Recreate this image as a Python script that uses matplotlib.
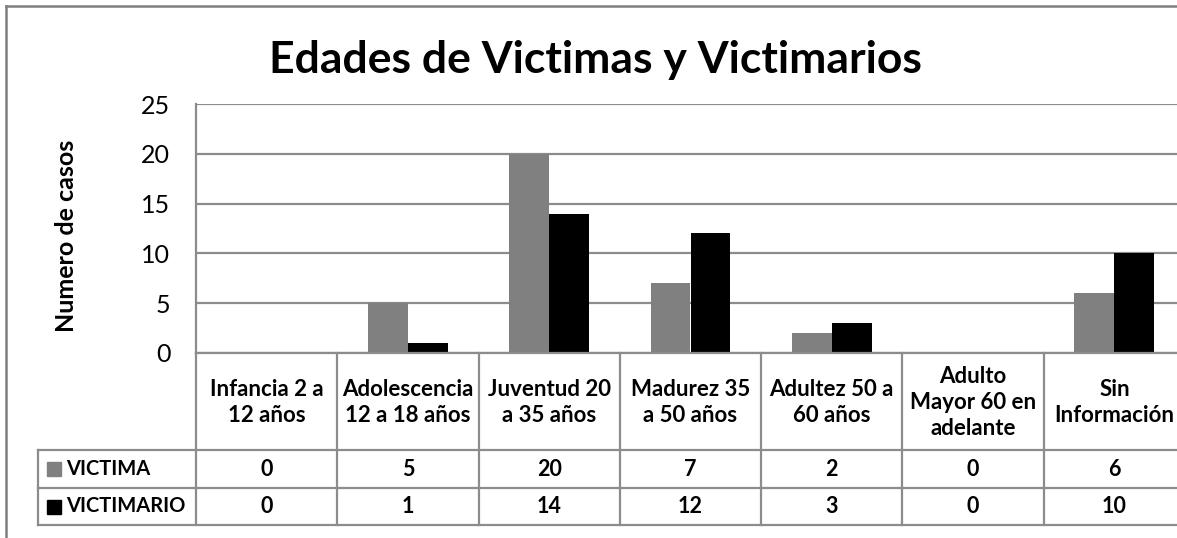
import matplotlib
matplotlib.use("Agg")
import matplotlib.pyplot as plt
from matplotlib.transforms import blended_transform_factory
from matplotlib.lines import Line2D
from matplotlib.patches import Rectangle
import numpy as np

categories = ["Infancia 2 a\n12 años", "Adolescencia\n12 a 18 años", "Juventud 20\na 35 años",
              "Madurez 35\na 50 años", "Adultez 50 a\n60 años", "Adulto\nMayor 60 en\nadelante",
              "Sin\nInformación"]
series_names = ["VICTIMA", "VICTIMARIO"]
victima = [0, 5, 20, 7, 2, 0, 6]
victimario = [0, 1, 14, 12, 3, 0, 10]
yticks = [0, 5, 10, 15, 20, 25]
title = "Edades de Victimas y Victimarios"
ylabel = "Numero de casos"

FONT = "Lato"
W, H = 1177, 538
GRID = "#8c8c8c"
C_V = "#808080"
C_M = "#000000"

fig = plt.figure(figsize=(W / 100, H / 100), dpi=100)

def fx(px):
    return px / W

def fy(py):
    return 1 - py / H

ax_left, ax_right, ax_top, ax_bot = 196, 1185, 104, 353
ax = fig.add_axes([fx(ax_left), fy(ax_bot), fx(ax_right - ax_left), (ax_bot - ax_top) / H])

x = np.arange(len(categories))
bw = 0.283
ax.bar(x - bw / 2, victima, bw, color=C_V, zorder=3)
ax.bar(x + bw / 2, victimario, bw, color=C_M, zorder=3)
ax.set_xlim(-0.5, len(categories) - 0.5)
ax.set_ylim(0, 25)
ax.set_yticks(yticks)
ax.set_yticklabels([str(t) for t in yticks], fontfamily=FONT, fontsize=18)
ax.tick_params(axis="y", length=0, pad=18.5)
ax.set_xticks([])
ax.grid(axis="y", color=GRID, linewidth=1.6, zorder=0)
for s in ["top", "right", "bottom"]:
    ax.spines[s].set_visible(False)
ax.spines["left"].set_color(GRID)
ax.spines["left"].set_linewidth(1.6)
ax.set_axisbelow(True)

# overlay in pixel coords for table and frame
ov = fig.add_axes([0, 0, 1, 1], facecolor="none")
ov.set_xlim(0, W)
ov.set_ylim(H, 0)
ov.axis("off")

lw = 1.6
# figure border
ov.add_line(Line2D([6, 6], [6, H], color="#7f7f7f", lw=1.8))
ov.add_line(Line2D([6, W], [6, 6], color="#7f7f7f", lw=1.8))

catw = (ax_right - ax_left) / len(categories)
tab_left = 38
hdr_top, r1_top, r2_top, tab_bot = 353, 450, 488, 525
# horizontal lines
ov.add_line(Line2D([ax_left, W], [hdr_top, hdr_top], color=GRID, lw=lw))
for yy in [r1_top, r2_top, tab_bot]:
    ov.add_line(Line2D([tab_left, W], [yy, yy], color=GRID, lw=lw))
ov.add_line(Line2D([tab_left, tab_left], [r1_top, tab_bot], color=GRID, lw=lw))
for i in range(len(categories) + 1):
    xb = ax_left + i * catw
    ov.add_line(Line2D([xb, xb], [hdr_top, tab_bot], color=GRID, lw=lw))

tr = blended_transform_factory(ax.transData, fig.transFigure)
for i, cat in enumerate(categories):
    fig.text(x[i], fy((hdr_top + r1_top) / 2 + 1), cat, transform=tr, ha="center", va="center",
             fontfamily=FONT, fontweight="bold", fontsize=16, linespacing=1.32)
    fig.text(x[i], fy((r1_top + r2_top) / 2), str(victima[i]), transform=tr, ha="center",
             va="center", fontfamily=FONT, fontweight="bold", fontsize=15.5)
    fig.text(x[i], fy((r2_top + tab_bot) / 2), str(victimario[i]), transform=tr, ha="center",
             va="center", fontfamily=FONT, fontweight="bold", fontsize=15.5)

for (name, col, yc) in [(series_names[0], C_V, (r1_top + r2_top) / 2),
                        (series_names[1], C_M, (r2_top + tab_bot) / 2)]:
    ov.add_patch(Rectangle((47, yc - 7), 14, 14, color=col))
    ov.text(66, yc, name, ha="left", va="center", fontfamily=FONT, fontweight="bold", fontsize=14.5)

fig.text(fx(595), fy(60), title, ha="center", va="center", fontfamily=FONT,
         fontweight="bold", fontsize=32)
fig.text(fx(67), fy(236), ylabel, ha="center", va="center", rotation=90, fontfamily=FONT,
         fontweight="bold", fontsize=18)

fig.savefig("out.png", dpi=100, facecolor="white")
